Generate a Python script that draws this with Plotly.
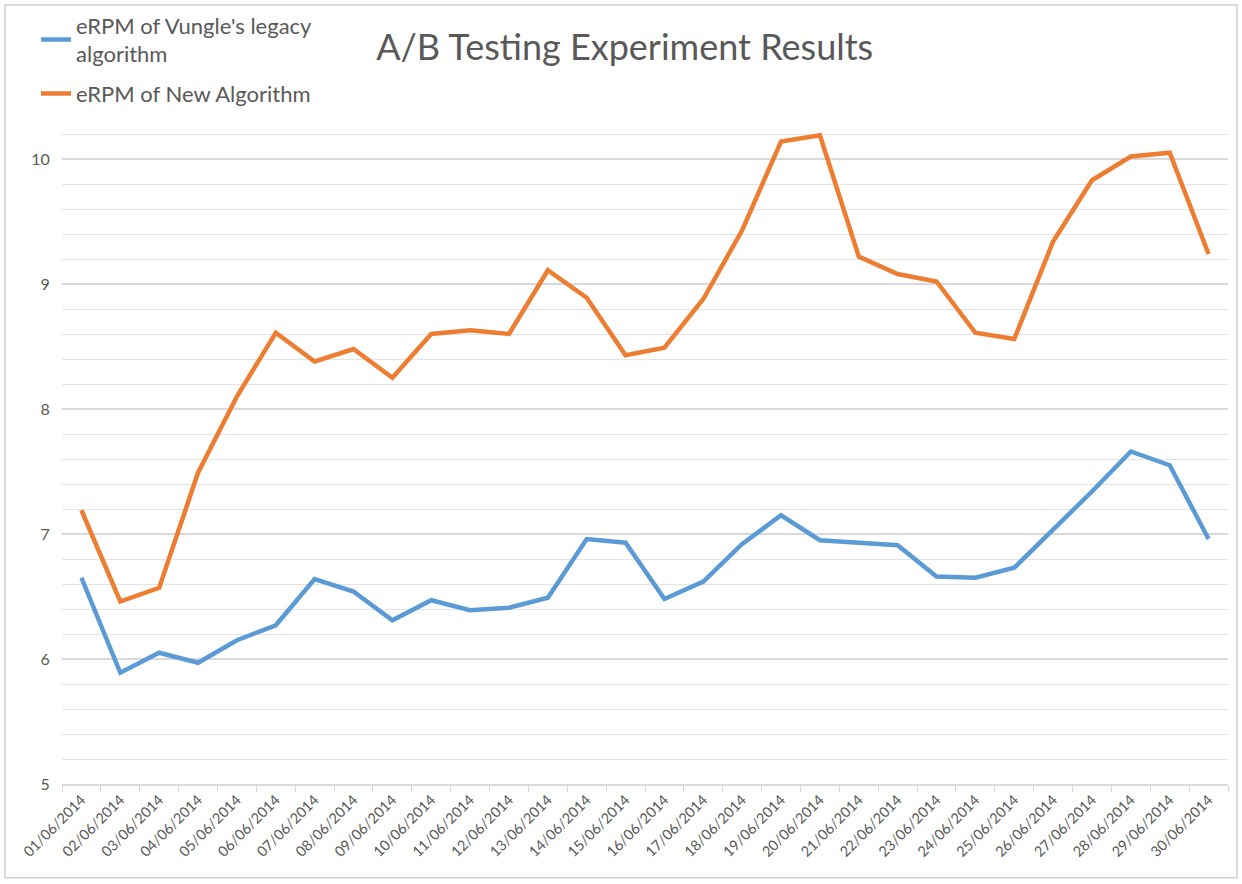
import plotly.graph_objects as go

dates = [f"{d:02d}/06/2014" for d in range(1, 31)]

legacy = [6.65, 5.89, 6.05, 5.97, 6.15, 6.27, 6.64, 6.54, 6.31, 6.47,
          6.39, 6.41, 6.49, 6.96, 6.93, 6.48, 6.62, 6.92, 7.15, 6.95,
          6.93, 6.91, 6.66, 6.65, 6.73, 7.03, 7.34, 7.66, 7.55, 6.96]

new_algo = [7.19, 6.46, 6.57, 7.49, 8.10, 8.61, 8.38, 8.48, 8.25, 8.60,
            8.63, 8.60, 9.11, 8.89, 8.43, 8.49, 8.88, 9.43, 10.14, 10.19,
            9.22, 9.08, 9.02, 8.61, 8.56, 9.34, 9.83, 10.02, 10.05, 9.24]

y_ticks = [5, 6, 7, 8, 9, 10]

FONT = "Lato"
GREY = "#595959"

fig = go.Figure()
fig.add_trace(go.Scatter(
    x=dates, y=legacy, mode="lines",
    name="eRPM of Vungle's legacy<br>algorithm", legendgroup="a",
    line=dict(color="#5B9BD5", width=4.5),
))
fig.add_trace(go.Scatter(
    x=dates, y=new_algo, mode="lines",
    name="eRPM of New Algorithm", legendgroup="b",
    line=dict(color="#ED7D31", width=4.5),
))

fig.update_layout(
    width=1242, height=884,
    paper_bgcolor="white", plot_bgcolor="white",
    margin=dict(l=62, r=14, t=109, b=100, autoexpand=False),
    font=dict(family=FONT, color=GREY),
    title=dict(text="A/B Testing Experiment Results",
               x=0.503, xanchor="center", xref="container",
               y=0.946, yanchor="middle", yref="container",
               font=dict(family=FONT, size=36, color=GREY)),
    legend=dict(x=0.029, y=0.995, xanchor="left", yanchor="top",
                xref="container", yref="container",
                font=dict(family=FONT, size=22, color=GREY),
                bgcolor="rgba(0,0,0,0)", itemwidth=30, tracegroupgap=8),
    showlegend=True,
    shapes=[dict(type="rect", xref="paper", yref="paper",
                 x0=-0.0489, x1=1.0077, y0=-0.139, y1=1.154,
                 line=dict(color="#d0d0d0", width=1.5), layer="below")],
)

fig.update_xaxes(
    type="category",
    range=[-0.5, 29.5],
    tickangle=-45,
    tickfont=dict(family=FONT, size=14.5, color=GREY),
    showgrid=False,
    showline=True, linecolor="#d9d9d9", linewidth=1.5,
    ticks="outside", tickson="boundaries", ticklen=6, tickcolor="#d9d9d9",
    automargin=False,
)

fig.update_yaxes(
    range=[5, 10.4],
    tickvals=y_ticks,
    tickfont=dict(family=FONT, size=16, color=GREY),
    showgrid=True, gridcolor="#d9d9d9", gridwidth=1.5,
    minor=dict(dtick=0.2, showgrid=True, gridcolor="#e4e4e4", gridwidth=1.2),
    zeroline=False, showline=False,
    ticks="outside", ticklen=8, tickcolor="rgba(0,0,0,0)",
    automargin=False,
)

fig.write_html("out.html",
               config={"displayModeBar": False},
               post_script="document.body.style.margin='0';document.body.style.overflow='hidden';")
